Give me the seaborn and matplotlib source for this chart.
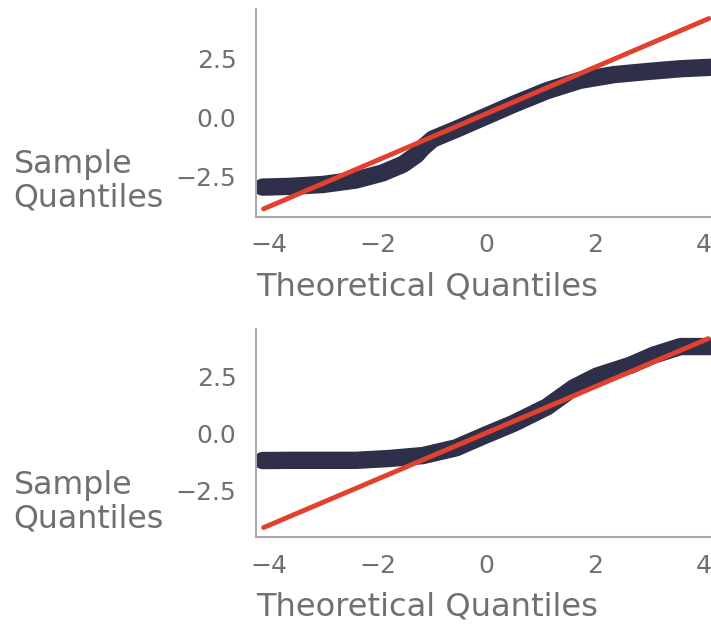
import matplotlib
matplotlib.use("Agg")
import matplotlib.pyplot as plt
import seaborn as sns
import pandas as pd
import numpy as np

# ---- data ----
top_theoretical = [-4.12, -3.63, -3.01, -2.40, -1.91, -1.54, -1.29, -1.17, -0.99, -0.56,
                   -0.12, 0.50, 1.11, 1.72, 2.34, 2.95, 3.57, 4.12]
top_sample      = [-2.94, -2.91, -2.83, -2.64, -2.34, -1.98, -1.58, -1.27, -0.91, -0.50,
                   -0.06, 0.56, 1.13, 1.57, 1.81, 1.94, 2.06, 2.12]
top_line_x = [-4.10, 4.09]
top_line_y = [-3.86, 4.18]

bot_theoretical = [-4.12, -3.63, -2.40, -1.79, -1.17, -0.56, -0.06, 0.50, 1.11, 1.60,
                   2.03, 2.65, 3.07, 3.57, 4.12]
bot_sample      = [-1.18, -1.17, -1.17, -1.09, -0.96, -0.62, -0.10, 0.46, 1.18, 2.02,
                   2.54, 3.02, 3.46, 3.84, 3.84]
bot_line_x = [-4.10, 4.08]
bot_line_y = [-4.13, 4.19]

x_ticks = [-4, -2, 0, 2, 4]
y_ticks = [-2.5, 0.0, 2.5]
x_label = "Theoretical Quantiles"
y_label = "Sample\nQuantiles"

DARK = "#2d3048"
RED = "#e2412f"
TEXT = "#707070"
SPINE = "#aaaaaa"

sns.set_style("white")
plt.rcParams["font.family"] = ["DejaVu Sans"]

W, H = 711, 626
fig = plt.figure(figsize=(W / 100, H / 100), dpi=100)

panels = [
    (top_theoretical, top_sample, top_line_x, top_line_y, 9.3, 216.7, (-4.19, 4.57)),
    (bot_theoretical, bot_sample, bot_line_x, bot_line_y, 329.3, 537.3, (-4.56, 4.60)),
]

for tq, sq, lx, ly, ytop, ybot, ylim in panels:
    ax = fig.add_axes([256 / W, 1 - ybot / H, (W - 256) / W, (ybot - ytop) / H])
    df = pd.DataFrame({"theoretical": tq, "sample": sq})
    sns.lineplot(data=df, x="theoretical", y="sample", ax=ax, color=DARK,
                 linewidth=12.5, solid_capstyle="round", solid_joinstyle="round",
                 sort=False, estimator=None)
    dl = pd.DataFrame({"x": lx, "y": ly})
    sns.lineplot(data=dl, x="x", y="y", ax=ax, color=RED, linewidth=3.5,
                 solid_capstyle="round", sort=False, estimator=None)
    ax.set_xlim(-4.24, 4.13)
    ax.set_ylim(*ylim)
    ax.set_xticks(x_ticks)
    ax.set_yticks(y_ticks)
    ax.set_xticklabels([f"{v:g}".replace("-", "\u2212") for v in x_ticks])
    ax.set_yticklabels([f"{v:.1f}".replace("-", "\u2212") for v in y_ticks])
    ax.tick_params(axis="both", length=0, labelsize=18, labelcolor=TEXT)
    ax.tick_params(axis="y", pad=14)
    ax.tick_params(axis="x", pad=12)
    for s in ["top", "right"]:
        ax.spines[s].set_visible(False)
    for s in ["left", "bottom"]:
        ax.spines[s].set_color(SPINE)
        ax.spines[s].set_linewidth(1.5)
    ax.set_xlabel(x_label, fontsize=23.1, color=TEXT, ha="left", va="top")
    ax.xaxis.set_label_coords(0.0, -0.262)
    ax.set_ylabel(y_label, fontsize=22.8, color=TEXT, rotation=0, ha="left",
                  va="center", multialignment="left", linespacing=1.1)
    ax.yaxis.set_label_coords(-0.533, 0.17)

fig.savefig("out.png", dpi=100)
